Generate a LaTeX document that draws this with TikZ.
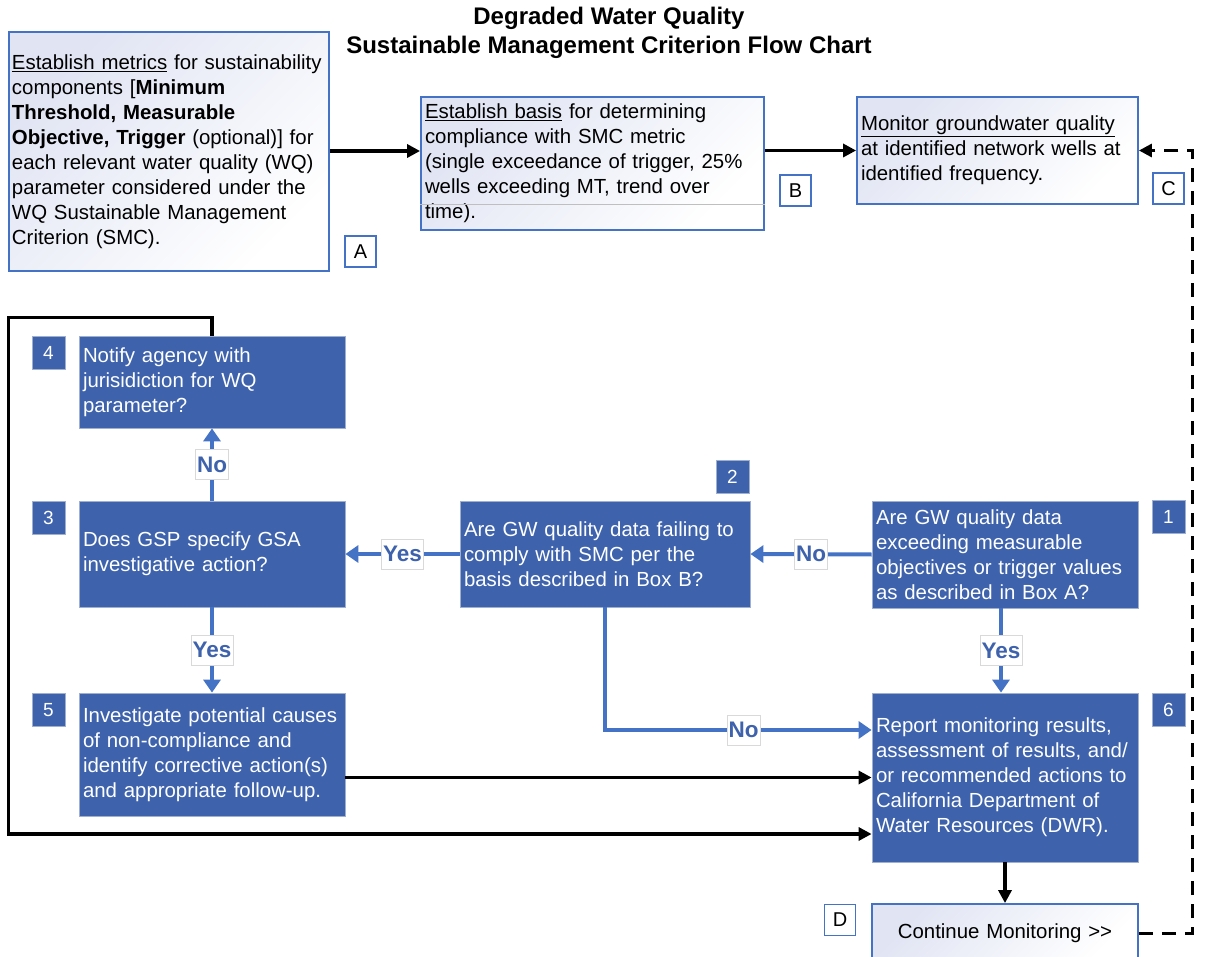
\documentclass[tikz,border=0pt]{standalone}
\usepackage{fontspec}
\setmainfont{Liberation Sans}
\usetikzlibrary{arrows.meta}

\definecolor{boxblue}{RGB}{62,99,172}
\definecolor{linkblue}{RGB}{68,114,196}
\definecolor{edgegray}{RGB}{160,175,205}
\definecolor{boxtint}{RGB}{224,228,243}

\tikzset{
  stepbox/.style={draw=edgegray, line width=0.8pt, fill=boxblue, text=white, align=left,
    inner xsep=4pt, inner ysep=0pt, font=\fontsize{20.4}{25}\selectfont},
  notebox/.style={draw=linkblue, line width=1.8pt, top color=boxtint, bottom color=white,
    shading angle=45, align=left, inner xsep=4pt, inner ysep=0pt,
    font=\fontsize{20.4}{25}\selectfont},
  tag/.style={draw=edgegray, line width=0.8pt, fill=boxblue, text=white, minimum size=33pt,
    inner sep=0pt, font=\fontsize{19}{19}\selectfont},
  lettertag/.style={draw=linkblue, line width=1.5pt, fill=white, minimum size=31pt,
    inner sep=0pt, font=\fontsize{20}{20}\selectfont},
  answer/.style={draw=black!15, line width=0.6pt, fill=white, text=boxblue, inner xsep=1.5pt,
    inner ysep=0pt, minimum height=30pt, font=\bfseries\fontsize{22.5}{22.5}\selectfont},
  flow/.style={draw=linkblue, line width=4pt, -{Triangle[length=13pt, width=17pt]}},
  link/.style={line width=3.2pt, -{Triangle[length=13pt, width=13pt]}},
}

\begin{document}
\begin{tikzpicture}[x=1pt, y=-1pt]
  \useasboundingbox (0,0) rectangle (1210,957);

  \node [font=\bfseries\fontsize{24}{29}\selectfont, align=center] (title) at (609,32.5)
    {Degraded Water Quality\\Sustainable Management Criterion Flow Chart};

  % setup boxes
  \node [notebox, inner xsep=3pt, text width=314pt, minimum height=239pt] (A) at (169,151.5)
    {\underline{Establish metrics} for sustainability\\
     components [\textbf{Minimum}\\
     \textbf{Threshold, Measurable}\\
     \textbf{Objective, Trigger} (optional)] for\\
     each relevant water quality (WQ)\\
     parameter considered under the\\
     WQ Sustainable Management\\
     Criterion (SMC).};
  \node [notebox, text width=335pt, minimum height=133pt] (B) at (592.5,163.5)
    {\underline{Establish basis} for determining\\
     compliance with SMC metric\\
     (single exceedance of trigger, 25\%\\
     wells exceeding MT, trend over\\
     time).};
  \draw [black!25, line width=0.8pt] ([yshift=-40.5pt]B.west) -- ([yshift=-40.5pt]B.east);
  \node [notebox, text width=273pt, minimum height=107pt] (C) at (997.5,150.5)
    {\underline{Monitor groundwater quality}\\
     at identified network wells at\\
     identified frequency.};

  % decision boxes
  \node [stepbox, text width=258pt, minimum height=92pt] (b4) at (212,382)
    {Notify agency with\\jurisidiction for WQ\\parameter?};
  \node [stepbox, text width=258pt, minimum height=106pt] (b3) at (212,554)
    {Does GSP specify GSA\\investigative action?};
  \node [stepbox, text width=282pt, minimum height=106pt] (b2) at (605,554)
    {Are GW quality data failing to\\comply with SMC per the\\basis described in Box B?};
  \node [stepbox, text width=258pt, minimum height=107pt] (b1) at (1005,554.5)
    {Are GW quality data\\exceeding measurable\\objectives or trigger values\\as described in Box A?};
  \node [stepbox, text width=258pt, minimum height=123pt] (b5) at (212,754.5)
    {Investigate potential causes\\of non-compliance and\\identify corrective action(s)\\and appropriate follow-up.};
  \node [stepbox, text width=258pt, minimum height=169pt] (b6) at (1005,777.5)
    {Report monitoring results,\\assessment of results, and/\\or recommended actions to\\California Department of\\Water Resources (DWR).};
  \node [notebox, align=center, text width=258pt, minimum height=58pt] (D) at (1005,933)
    {Continue Monitoring >{}>};

  % box tags
  \node [tag] (n1) at (1168.5,517) {1};
  \node [tag] (n2) at (732.5,477) {2};
  \node [tag] (n3) at (48.5,517.5) {3};
  \node [tag] (n4) at (48.5,352.5) {4};
  \node [tag] (n5) at (48.5,710) {5};
  \node [tag] (n6) at (1168.5,709.5) {6};
  \node [lettertag] (nA) at (360.5,251.5) {A};
  \node [lettertag] (nB) at (795.5,190.5) {B};
  \node [lettertag] (nC) at (1168.5,188.5) {C};
  \node [lettertag] (nD) at (840,920) {D};

  % connectors
  \draw [link] (A.east |- 0,151) -- (B.west |- 0,151);
  \draw [link] (B.east |- C.west) -- (C.west);
  \draw [link, dash pattern=on 14pt off 9pt, line width=3pt] (D.east) -- ++(54,0) |- (C.east);

  \draw [flow] (b1.west) -- node [answer] {No} (b2.east);
  \draw [flow] (b2.west) -- node [answer] {Yes} (b3.east);
  \draw [flow] (b3.north) -- node [answer] {No} (b4.south);
  \draw [flow] (b3.south) -- node [answer] {Yes} (b5.north);
  \draw [flow] ([xshift=-4pt]b1.south) -- node [answer] {Yes} ([xshift=-4pt]b6.north);
  \draw [flow] (b2.south) |- node [answer, pos=0.76] {No} ([yshift=47.5pt]b6.west);

  \draw [link] (b5.east |- b6.west) -- (b6.west);
  \draw [link] (b4.north) -- ++(0,-18) -| (A.west |- 0,834) -- ([yshift=-56.5pt]b6.west);
  \draw [link] (b6.south) -- (D.north);
\end{tikzpicture}
\end{document}
